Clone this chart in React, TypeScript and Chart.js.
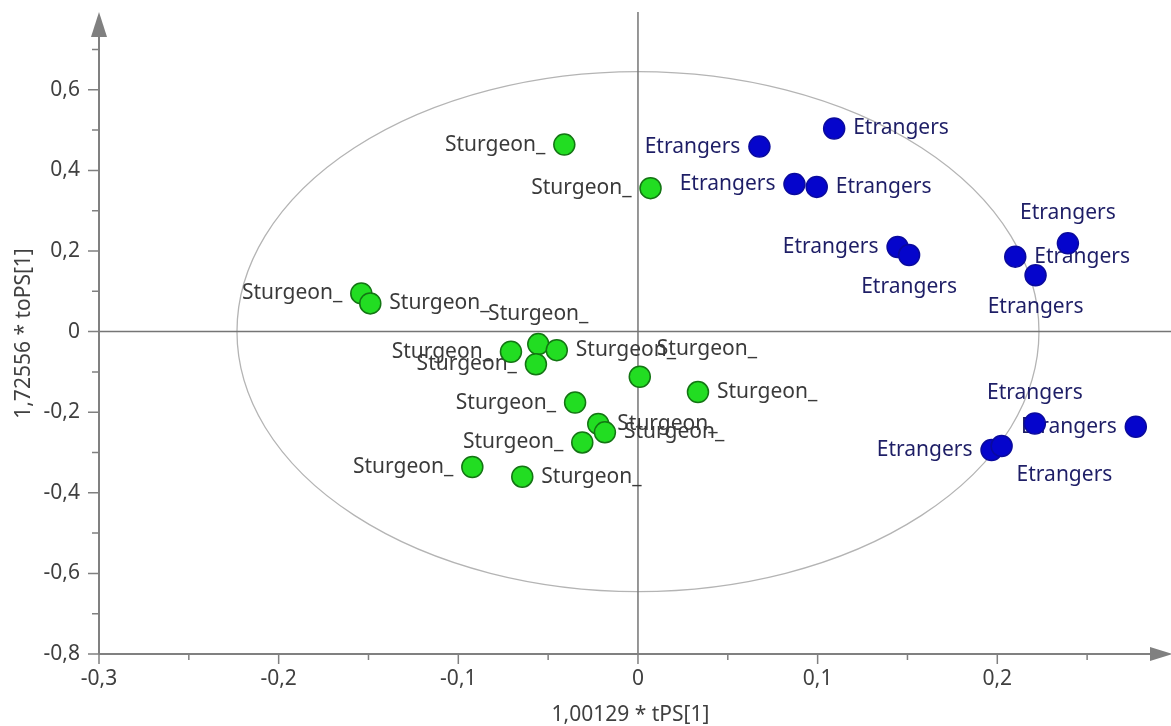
import { useEffect, useRef } from "react";
import { Chart, registerables } from "chart.js";

Chart.register(...registerables);

// ---------- data ----------
const sturgeonX = [-0.041, 0.007, -0.154, -0.149, -0.0555, -0.0707, -0.0568, -0.0452, 0.001, 0.0334, -0.035, -0.0221, -0.0184, -0.031, -0.0922, -0.0644];
const sturgeonY = [0.464, 0.356, 0.0948, 0.07, -0.031, -0.05, -0.081, -0.046, -0.112, -0.15, -0.176, -0.229, -0.25, -0.275, -0.336, -0.36];
const sturgeonLabelSide = ["left", "left", "left", "right", "above", "left", "left", "right", "upright", "right", "left", "right", "right", "left", "left", "right"];

const etrangersX = [0.1092, 0.0676, 0.0871, 0.0995, 0.1445, 0.1509, 0.21, 0.2393, 0.2213, 0.2209, 0.2771, 0.1968, 0.2024];
const etrangersY = [0.504, 0.459, 0.366, 0.359, 0.21, 0.19, 0.186, 0.219, 0.14, -0.228, -0.236, -0.294, -0.284];
const etrangersLabelSide = ["right", "left", "left", "right", "left", "below", "right", "above", "below", "above", "left", "left", "downright"];

const sturgeonText = "Sturgeon_";
const etrangersText = "Etrangers";

const xTicks = [-0.3, -0.2, -0.1, 0, 0.1, 0.2];
const xMinorTicks = [-0.25, -0.15, -0.05, 0.05, 0.15, 0.25];
const yTicks = [-0.8, -0.6, -0.4, -0.2, 0, 0.2, 0.4, 0.6];
const yMinorTicks = [-0.7, -0.5, -0.3, -0.1, 0.1, 0.3, 0.5, 0.7];

const xMin = -0.3;
const xMax = 0.285;
const yMin = -0.8;
const yMax = 0.731;

const ellipseRadiusX = 0.2232;
const ellipseRadiusY = 0.645;

const xTitle = "1,00129 * tPS[1]";
const yTitle = "1,72556 * toPS[1]";

// ---------- styles ----------
const FONT_FAMILY = '"Noto Sans", "DejaVu Sans", sans-serif';
const FONT_SIZE = 21;
const LABEL_FONT = `${FONT_SIZE}px ${FONT_FAMILY}`;
const AXIS_COLOR = "#808080";
const TEXT_COLOR = "#404040";
const STURGEON_TEXT_COLOR = "#3a3a3a";
const ETRANGERS_TEXT_COLOR = "#1e1e66";

const LABEL_OFFSETS: Record<string, { dx: number; dy: number; align: CanvasTextAlign }> = {
  left: { dx: -19, dy: 0, align: "right" },
  right: { dx: 19, dy: 0, align: "left" },
  above: { dx: 0, dy: -30, align: "center" },
  below: { dx: 0, dy: 32, align: "center" },
  upright: { dx: 17, dy: -28, align: "left" },
  downright: { dx: 15, dy: 29, align: "left" },
};

const fmt = (v: number) => {
  let r = Math.round(v * 10) / 10;
  if (Object.is(r, -0)) r = 0;
  return r.toString().replace(".", ",");
};

const drawLabels = (ctx: CanvasRenderingContext2D, xs: number[], ys: number[], sides: string[], text: string, color: string, xs_: any, ys_: any) => {
  ctx.fillStyle = color;
  ctx.font = LABEL_FONT;
  ctx.textBaseline = "middle";
  xs.forEach((xv, i) => {
    const px = xs_.getPixelForValue(xv);
    const py = ys_.getPixelForValue(ys[i]);
    const o = LABEL_OFFSETS[sides[i]] || LABEL_OFFSETS.right;
    ctx.textAlign = o.align;
    ctx.fillText(text, px + o.dx, py + o.dy);
  });
};

const decorPlugin = {
  id: "decor",
  beforeDatasetsDraw(chart: any) {
    const { ctx, chartArea } = chart;
    const x = chart.scales.x;
    const y = chart.scales.y;
    const cx = x.getPixelForValue(0);
    const cy = y.getPixelForValue(0);
    const left = chartArea.left;
    const bottom = chartArea.bottom;
    ctx.save();

    // ellipse (Hotelling T2)
    const rx = x.getPixelForValue(ellipseRadiusX) - cx;
    const ry = cy - y.getPixelForValue(ellipseRadiusY);
    ctx.strokeStyle = "#b4b4b4";
    ctx.lineWidth = 1.3;
    ctx.beginPath();
    ctx.ellipse(cx, cy, rx, ry, 0, 0, Math.PI * 2);
    ctx.stroke();

    // crosshair at origin
    ctx.strokeStyle = "#757575";
    ctx.lineWidth = 1.5;
    ctx.beginPath();
    ctx.moveTo(cx, chartArea.top - 25);
    ctx.lineTo(cx, bottom);
    ctx.stroke();
    ctx.beginPath();
    ctx.moveTo(left, cy);
    ctx.lineTo(chart.width, cy);
    ctx.stroke();

    // axes lines
    ctx.strokeStyle = AXIS_COLOR;
    ctx.lineWidth = 2;
    ctx.beginPath();
    ctx.moveTo(left, bottom);
    ctx.lineTo(left, chartArea.top - 20);
    ctx.stroke();
    ctx.beginPath();
    ctx.moveTo(left, bottom);
    ctx.lineTo(chartArea.right, bottom);
    ctx.stroke();

    // arrows
    ctx.fillStyle = AXIS_COLOR;
    ctx.beginPath();
    ctx.moveTo(left, chartArea.top - 25);
    ctx.lineTo(left - 8, chartArea.top);
    ctx.lineTo(left + 8, chartArea.top);
    ctx.closePath();
    ctx.fill();
    ctx.beginPath();
    ctx.moveTo(chartArea.right + 23, bottom);
    ctx.lineTo(chartArea.right, bottom - 7);
    ctx.lineTo(chartArea.right, bottom + 7);
    ctx.closePath();
    ctx.fill();

    // tick marks
    ctx.strokeStyle = AXIS_COLOR;
    ctx.lineWidth = 1.5;
    ctx.beginPath();
    xTicks.forEach((v) => {
      const p = x.getPixelForValue(v);
      ctx.moveTo(p, bottom);
      ctx.lineTo(p, bottom + 10);
    });
    xMinorTicks.forEach((v) => {
      const p = x.getPixelForValue(v);
      ctx.moveTo(p, bottom);
      ctx.lineTo(p, bottom + 6);
    });
    yTicks.forEach((v) => {
      const p = y.getPixelForValue(v);
      ctx.moveTo(left, p);
      ctx.lineTo(left - 11, p);
    });
    yMinorTicks.forEach((v) => {
      const p = y.getPixelForValue(v);
      ctx.moveTo(left, p);
      ctx.lineTo(left - 7, p);
    });
    ctx.stroke();

    // point labels
    drawLabels(ctx, sturgeonX, sturgeonY, sturgeonLabelSide, sturgeonText, STURGEON_TEXT_COLOR, x, y);
    drawLabels(ctx, etrangersX, etrangersY, etrangersLabelSide, etrangersText, ETRANGERS_TEXT_COLOR, x, y);

    // axis titles
    ctx.fillStyle = TEXT_COLOR;
    ctx.font = LABEL_FONT;
    ctx.textAlign = "center";
    ctx.textBaseline = "middle";
    ctx.fillText(xTitle, (chartArea.left + chartArea.right) / 2 + 6, chart.height - 10.5);
    ctx.save();
    ctx.translate(24.5, (chartArea.top + chartArea.bottom) / 2 - 12);
    ctx.rotate(-Math.PI / 2);
    ctx.fillText(yTitle, 0, 0);
    ctx.restore();

    ctx.restore();
  },
};

export default function App() {
  const canvasRef = useRef<HTMLCanvasElement | null>(null);

  useEffect(() => {
    document.body.style.margin = "0";
    const canvas = canvasRef.current;
    if (!canvas) return;
    const tickFont = { family: FONT_FAMILY, size: FONT_SIZE };
    const chart = new Chart(canvas, {
      type: "scatter",
      data: {
        datasets: [
          {
            label: sturgeonText,
            data: sturgeonX.map((v, i) => ({ x: v, y: sturgeonY[i] })),
            backgroundColor: "#22dd22",
            borderColor: "#137513",
            borderWidth: 1.5,
            pointRadius: 10.5,
            pointHoverRadius: 10.5,
          },
          {
            label: etrangersText,
            data: etrangersX.map((v, i) => ({ x: v, y: etrangersY[i] })),
            backgroundColor: "#0505cc",
            borderColor: "#0a0a9e",
            borderWidth: 1.5,
            pointRadius: 10.5,
            pointHoverRadius: 10.5,
          },
        ],
      },
      options: {
        responsive: false,
        animation: false,
        events: [],
        layout: { padding: { top: 37, right: 21, left: 0, bottom: 0 } },
        plugins: { legend: { display: false }, tooltip: { enabled: false } },
        scales: {
          x: {
            type: "linear",
            min: xMin,
            max: xMax,
            afterBuildTicks: (s: any) => {
              s.ticks = xTicks.map((v) => ({ value: v }));
            },
            afterFit: (s: any) => {
              s.height = 72;
            },
            grid: { display: false, drawTicks: false },
            border: { display: false },
            ticks: {
              padding: 12,
              color: TEXT_COLOR,
              font: tickFont,
              maxRotation: 0,
              autoSkip: false,
              callback: (v: any) => fmt(Number(v)),
            },
          },
          y: {
            type: "linear",
            min: yMin,
            max: yMax,
            afterBuildTicks: (s: any) => {
              s.ticks = yTicks.map((v) => ({ value: v }));
            },
            afterFit: (s: any) => {
              s.width = 99;
            },
            grid: { display: false, drawTicks: false },
            border: { display: false },
            ticks: {
              padding: 19,
              color: TEXT_COLOR,
              font: tickFont,
              autoSkip: false,
              callback: (v: any) => fmt(Number(v)),
            },
          },
        },
      },
      plugins: [decorPlugin],
    } as any);
    return () => chart.destroy();
  }, []);

  return <canvas ref={canvasRef} width={1171} height={726} style={{ display: "block" }} />;
}
